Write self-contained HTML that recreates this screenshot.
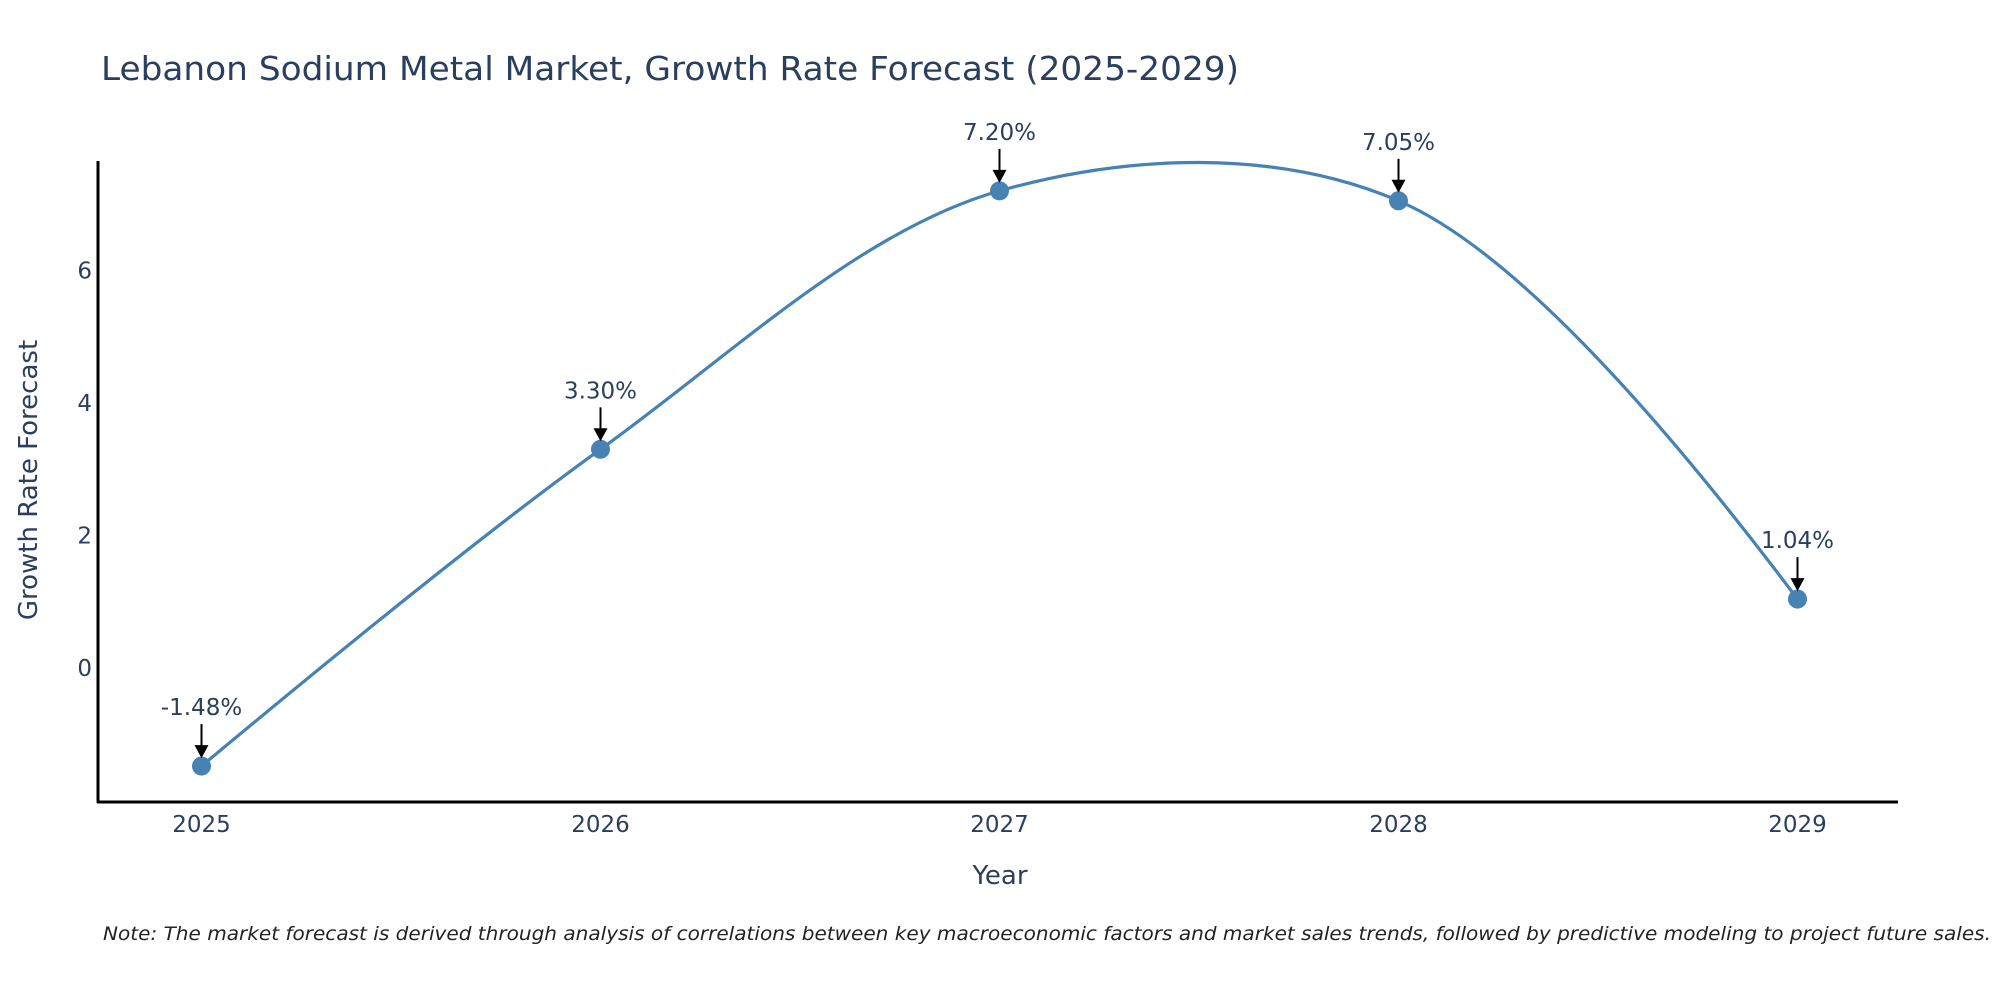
<!DOCTYPE html>
<html><head><meta charset="utf-8"><style>
html,body{margin:0;padding:0;background:#fff;}
svg{display:block;font-family:"DejaVu Sans","Liberation Sans",sans-serif;}
</style></head><body>
<svg id="chart" width="2000" height="1000" viewBox="0 0 2000 1000" xmlns="http://www.w3.org/2000/svg">
<rect width="2000" height="1000" fill="#fff"/>
<text x="101" y="80" font-size="33" fill="#2a3f5f" textLength="1138" lengthAdjust="spacingAndGlyphs">Lebanon Sodium Metal Market, Growth Rate Forecast (2025-2029)</text>
<g id="plot"></g>
<line x1="98" y1="161" x2="98" y2="803" stroke="#000" stroke-width="3"/>
<line x1="97" y1="802" x2="1898" y2="802" stroke="#000" stroke-width="3"/>
<text x="1000" y="884" font-size="26" fill="#2a3f5f" text-anchor="middle">Year</text>
<text x="0" y="0" font-size="26" fill="#2a3f5f" text-anchor="middle" transform="translate(37,480) rotate(-90)">Growth Rate Forecast</text>
<text x="103" y="940" font-size="19" font-style="italic" fill="#222" textLength="1888" lengthAdjust="spacingAndGlyphs">Note: The market forecast is derived through analysis of correlations between key macroeconomic factors and market sales trends, followed by predictive modeling to project future sales.</text>
</svg>
<script>
const years = [2025, 2026, 2027, 2028, 2029];
const growth = [-1.48, 3.30, 7.20, 7.05, 1.04];
const labels = ["-1.48%", "3.30%", "7.20%", "7.05%", "1.04%"];
const yTicks = [0, 2, 4, 6];

const NS = "http://www.w3.org/2000/svg";
const g = document.getElementById('plot');
function X(yr){ return 201.5 + (yr - 2025) * 399; }
function Y(v){ return 668 - v * 66.27; }
function mk(tag, attrs){ const e = document.createElementNS(NS, tag); for (const k in attrs) e.setAttribute(k, attrs[k]); g.appendChild(e); return e; }

yTicks.forEach(t => {
  const e = mk('text', {x: 92, y: Y(t) + 8, 'font-size': 23, fill: '#2a3f5f', 'text-anchor': 'end'});
  
  
  e.textContent = t;
});
years.forEach(yr => {
  const e = mk('text', {x: X(yr), y: 832, 'font-size': 23, fill: '#2a3f5f', 'text-anchor': 'middle'});
  
  
  e.textContent = yr;
});

const pts = years.map((yr, i) => [X(yr), Y(growth[i])]);
function makeTangent(a, b, c, s) {
  const d1x = a[0]-b[0], d1y = a[1]-b[1], d2x = c[0]-b[0], d2y = c[1]-b[1];
  const d1a = Math.pow(d1x*d1x + d1y*d1y, 0.25), d2a = Math.pow(d2x*d2x + d2y*d2y, 0.25);
  const numx = (d2a*d2a*d1x - d1a*d1a*d2x) * s, numy = (d2a*d2a*d1y - d1a*d1a*d2y) * s;
  const den1 = 3*d2a*(d1a+d2a), den2 = 3*d1a*(d1a+d2a);
  return [[b[0] + numx/den1, b[1] + numy/den1], [b[0] - numx/den2, b[1] - numy/den2]];
}
const tg = [];
for (let i = 1; i < pts.length - 1; i++) tg.push(makeTangent(pts[i-1], pts[i], pts[i+1], 1));
let d = 'M' + pts[0] + 'Q' + tg[0][0] + ' ' + pts[1];
for (let i = 2; i < pts.length - 1; i++) d += 'C' + tg[i-2][1] + ' ' + tg[i-1][0] + ' ' + pts[i];
d += 'Q' + tg[pts.length-3][1] + ' ' + pts[pts.length-1];
const line = mk('path', {d: d, fill: 'none', stroke: '#4682b4', 'stroke-width': 3.2});



pts.forEach((p, i) => {
  const c = mk('circle', {cx: p[0], cy: p[1], r: 9.5, fill: '#4682b4'});
  
  
  const a = mk('line', {x1: p[0], y1: p[1] - 42, x2: p[0], y2: p[1] - 20, stroke: '#000', 'stroke-width': 2});
  
  
  const h = mk('path', {d: `M${p[0]-7},${p[1]-21} L${p[0]+7},${p[1]-21} L${p[0]},${p[1]-8} Z`, fill: '#000'});
  
  
  const t = mk('text', {x: p[0], y: p[1] - 51, 'font-size': 23, fill: '#2a3f5f', 'text-anchor': 'middle'});
  
  
  t.textContent = labels[i];
});
</script>
</body></html>
